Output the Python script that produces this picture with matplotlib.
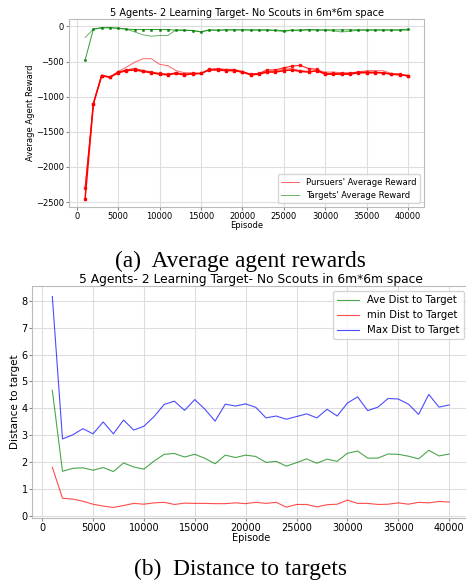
import numpy as np
import matplotlib.pyplot as plt

episodes = list(range(1000, 40001, 1000))

# (a) average reward, several runs
pursuer_run1 = [-2450, -1100, -700, -725, -660, -630, -620, -640, -660, -680,
                -690, -670, -690, -675, -670, -620, -620, -630, -630, -650,
                -690, -680, -650, -650, -630, -620, -640, -650, -630, -680,
                -680, -680, -680, -660, -660, -660, -660, -680, -690, -700]
pursuer_run2 = [-2300, -1100, -700, -720, -650, -620, -600, -630, -650, -670,
                -680, -660, -680, -670, -670, -610, -610, -620, -620, -650,
                -680, -670, -620, -620, -590, -565, -555, -600, -610, -670,
                -670, -670, -670, -650, -650, -650, -660, -680, -680, -710]
pursuer_run3 = [-2300, -1100, -690, -720, -640, -580, -510, -460, -460, -540,
                -560, -630, -660, -660, -670, -610, -600, -610, -610, -640,
                -680, -670, -640, -640, -610, -600, -630, -640, -640, -650,
                -650, -660, -660, -650, -630, -630, -630, -670, -680, -700]
target_run1 = [-480, -40, -20, -20, -25, -40, -45, -45, -45, -45,
               -45, -55, -55, -60, -80, -50, -55, -50, -50, -50,
               -50, -50, -50, -55, -60, -55, -50, -45, -50, -50,
               -50, -50, -50, -50, -50, -50, -50, -50, -50, -40]
target_run2 = [-160, -40, -20, -20, -30, -40, -80, -120, -140, -130,
               -130, -50, -55, -60, -75, -55, -55, -50, -50, -50,
               -55, -55, -55, -60, -75, -55, -65, -50, -55, -55,
               -65, -80, -70, -55, -55, -55, -55, -55, -55, -55]

# (b) distance to targets
ave_dist = [4.67, 1.67, 1.78, 1.80, 1.71, 1.81, 1.66, 1.98, 1.83, 1.75,
            2.05, 2.30, 2.33, 2.20, 2.30, 2.15, 1.95, 2.27, 2.18, 2.27,
            2.22, 2.00, 2.04, 1.86, 1.99, 2.13, 1.97, 2.12, 2.04, 2.34,
            2.42, 2.16, 2.16, 2.31, 2.30, 2.23, 2.13, 2.45, 2.24, 2.31]
min_dist = [1.82, 0.67, 0.64, 0.56, 0.45, 0.38, 0.33, 0.40, 0.48, 0.45,
            0.50, 0.52, 0.44, 0.49, 0.48, 0.48, 0.47, 0.47, 0.50, 0.47,
            0.52, 0.48, 0.52, 0.34, 0.44, 0.44, 0.35, 0.43, 0.45, 0.60,
            0.48, 0.48, 0.44, 0.45, 0.50, 0.45, 0.52, 0.50, 0.55, 0.53]
max_dist = [8.15, 2.87, 3.02, 3.25, 3.06, 3.50, 3.06, 3.57, 3.20, 3.34,
            3.70, 4.15, 4.27, 3.93, 4.33, 3.97, 3.53, 4.16, 4.09, 4.17,
            4.04, 3.65, 3.72, 3.60, 3.70, 3.80, 3.65, 3.97, 3.72, 4.20,
            4.43, 3.92, 4.05, 4.37, 4.35, 4.16, 3.78, 4.52, 4.05, 4.13]

title = "5 Agents- 2 Learning Target- No Scouts in 6m*6m space"


def style_axes(ax, fs):
    ax.grid(True, color="#dddddd", linewidth=0.8)
    ax.set_axisbelow(True)
    for s in ax.spines.values():
        s.set_color("#bbbbbb")
    ax.tick_params(labelsize=fs, length=2, color="#888888", pad=1.5)


fig = plt.figure(figsize=(4.66, 5.82), dpi=100)

ax1 = fig.add_axes([0.148, 0.644, 0.762, 0.323])
ax1.plot(episodes, pursuer_run3, color="red", lw=0.7, alpha=0.6,
         label="Pursuers' Average Reward")
ax1.plot(episodes, pursuer_run2, color="red", lw=0.9, alpha=0.8,
         marker="s", ms=1.5)
ax1.plot(episodes, pursuer_run1, color="red", lw=1.1,
         marker="s", ms=1.5)
ax1.plot(episodes, target_run2, color="green", lw=0.7, alpha=0.6,
         label="Targets' Average Reward")
ax1.plot(episodes, target_run1, color="green", lw=0.7, alpha=0.8,
         marker="s", ms=1.0)
ax1.set_title(title, fontsize=7, pad=2)
ax1.set_xlabel("Episode", fontsize=6, labelpad=0)
ax1.set_ylabel("Average Agent Reward", fontsize=6, labelpad=1)
ax1.set_xticks(range(0, 40001, 5000))
ax1.set_yticks(range(-2500, 1, 500))
style_axes(ax1, 6)
ax1.legend(loc="lower right", fontsize=6, handlelength=2.2)

ax2 = fig.add_axes([0.0697, 0.110, 0.9367, 0.3986])
ax2.plot(episodes, ave_dist, color="green", lw=0.8, alpha=0.7,
         label="Ave Dist to Target")
ax2.plot(episodes, min_dist, color="red", lw=0.8, alpha=0.7,
         label="min Dist to Target")
ax2.plot(episodes, max_dist, color="blue", lw=0.8, alpha=0.7,
         label="Max Dist to Target")
ax2.set_title(title, fontsize=8.8, pad=2)
ax2.set_xlabel("Episode", fontsize=7, labelpad=0)
ax2.set_ylabel("Distance to target", fontsize=7.5, labelpad=1)
ax2.set_xticks(range(0, 40001, 5000))
ax2.set_yticks(range(0, 9))
style_axes(ax2, 7)
ax2.legend(loc="upper right", fontsize=7.3, handlelength=2.2)

fig.text(0.516, 0.550, "(a)  Average agent rewards", family="Liberation Serif",
         fontsize=16.8, ha="center", va="center")
fig.text(0.517, 0.021, "(b)  Distance to targets", family="Liberation Serif",
         fontsize=16.8, ha="center", va="center")

fig.savefig("out.png", dpi=100)
